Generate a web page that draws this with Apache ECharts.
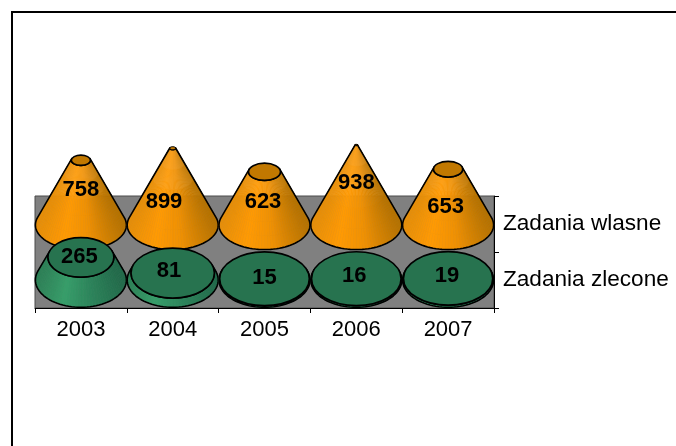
<!DOCTYPE html>
<html><head><meta charset="utf-8">
<style>html,body{margin:0;padding:0;background:#fff}#c{width:676px;height:446px}</style>
<script src="https://cdn.jsdelivr.net/npm/echarts@6/dist/echarts.min.js"></script>
</head><body><div id="c"></div>
<script>
const years = ['2003','2004','2005','2006','2007'];
const rows = ['Zadania zlecone','Zadania wlasne'];
const zadaniaWlasne = [758,899,623,938,653];
const zadaniaZlecone = [265,81,15,16,19];
const apexValue = 960;

const FONT = '"Liberation Sans", Arial, sans-serif';
const nudgeW = [[0,-35],[-8.7,-23.5],[-1.5,-23.5],[0,-42],[-2.4,-18.5]];
const nudgeZ = [[-1.6,-23.5],[-3.7,-9.5],[0,-2],[-2,-4],[-1,-4]];

function mix(a,b,t){return a.map((v,i)=>v+(b[i]-v)*t);}
function css(c){return 'rgb('+c.map(Math.round).join(',')+')';}
function shadeRGB(pal,u){ // u: 0 left .. 1 right
  if(u<0.3) return mix(pal.left,pal.peak,u/0.3);
  if(u<0.6) return mix(pal.peak,pal.mid,(u-0.3)/0.3);
  return mix(pal.mid,pal.right,(u-0.6)/0.4);
}
const orange={left:[232,143,8],peak:[255,154,4],mid:[238,144,4],right:[182,114,0],top:[193,120,0],glow:[245,172,72]};
const green={left:[46,130,88],peak:[55,158,106],mid:[45,134,92],right:[34,106,74],top:[39,115,79],glow:[60,165,112]};

function coneRenderer(pal,ratio,nudge){
  return function(params,api){
    const i=api.value(0),v=api.value(1);
    const base=api.coord([i,0]),top=api.coord([i,v]),apex=api.coord([i,apexValue]);
    const R=api.size([1,0])[0]/2-0.4;
    const r=R*(1-v/apexValue);
    const b=R*ratio,bt=r*ratio;
    const cx=base[0],cy=base[1],ty=top[1];
    const th0=Math.asin(Math.min(0.9,b/(cy-apex[1])));
    const N=56,L=5,kids=[];
    const bp=[],tp=[];
    for(let k=0;k<=N;k++){
      const t=-th0+(Math.PI+2*th0)*k/N;
      bp.push([cx+R*Math.cos(t),cy+b*Math.sin(t)]);
      tp.push([cx+r*Math.cos(t),ty+bt*Math.sin(t)]);
    }
    const lerp=(p,q,s)=>[p[0]+(q[0]-p[0])*s,p[1]+(q[1]-p[1])*s];
    for(let k=0;k<N;k++){
      const u=(bp[k][0]+bp[k+1][0]-2*(cx-R))/(4*R);
      const c=shadeRGB(pal,u);
      for(let l=0;l<L;l++){
        const s0=l/L,s1=(l+1)/L;
        const h=(s0+s1)/2*v/apexValue;
        const col=css(mix(c,pal.glow,Math.max(0,h-0.45)*0.9));
        kids.push({type:'polygon',shape:{points:[lerp(bp[k],tp[k],s0),lerp(bp[k+1],tp[k+1],s0),lerp(bp[k+1],tp[k+1],s1),lerp(bp[k],tp[k],s1)]},
          style:{fill:col,stroke:col,lineWidth:0.6},silent:true});
      }
    }
    kids.push({type:'polygon',shape:{points:bp.concat(tp.slice().reverse())},
      style:{fill:'none',stroke:'#000',lineWidth:1.6,lineJoin:'round'},silent:true});
    kids.push({type:'ellipse',shape:{cx:cx,cy:ty,rx:r,ry:bt},
      style:{fill:css(pal.top),stroke:'#000',lineWidth:r<4?1:1.6},silent:true});
    kids.push({type:'text',silent:true,style:{text:String(v),x:cx+nudge[i][0],y:cy+nudge[i][1],
      align:'center',verticalAlign:'middle',fontFamily:FONT,fontWeight:'bold',fontSize:22,fill:'#000'}});
    return {type:'group',children:kids};
  };
}

const hiddenX=gi=>({type:'category',gridIndex:gi,data:years,show:false,boundaryGap:true});
const hiddenY=gi=>({type:'value',gridIndex:gi,min:0,max:apexValue,show:false});

const chart=echarts.init(document.getElementById('c'),null,{renderer:'canvas'});
chart.setOption({
  animation:false,
  backgroundColor:'#fff',
  graphic:[{type:'rect',shape:{x:12,y:12,width:700,height:500},style:{fill:'none',stroke:'#000',lineWidth:2},z:-1}],
  grid:[
    {left:35,top:196,width:459,height:112,show:true,backgroundColor:'#808080',borderWidth:1,borderColor:'#4a4a4a'},
    {left:35,top:143,width:459,height:82,show:false},
    {left:35,top:198,width:459,height:82,show:false}
  ],
  xAxis:[
    {type:'category',gridIndex:0,data:years,position:'bottom',
     axisLine:{show:true,lineStyle:{color:'#000',width:1}},
     axisTick:{show:true,length:5,lineStyle:{color:'#000'}},
     axisLabel:{color:'#000',fontFamily:FONT,fontSize:22,margin:11}},
    hiddenX(1),hiddenX(2)
  ],
  yAxis:[
    {type:'category',gridIndex:0,data:rows,position:'right',
     axisLine:{show:true,lineStyle:{color:'#000',width:1}},
     axisTick:{show:true,length:5,lineStyle:{color:'#000'}},
     axisLabel:{color:'#000',fontFamily:FONT,fontSize:22.6,margin:9}},
    hiddenY(1),hiddenY(2)
  ],
  series:[
    {type:'custom',name:rows[1],xAxisIndex:1,yAxisIndex:1,z:3,clip:false,
     data:zadaniaWlasne.map((v,i)=>[i,v]),encode:{x:0,y:1},
     renderItem:coneRenderer(orange,0.54,nudgeW)},
    {type:'custom',name:rows[0],xAxisIndex:2,yAxisIndex:2,z:4,clip:false,
     data:zadaniaZlecone.map((v,i)=>[i,v]),encode:{x:0,y:1},
     renderItem:coneRenderer(green,0.6,nudgeZ)}
  ]
});
</script></body></html>
